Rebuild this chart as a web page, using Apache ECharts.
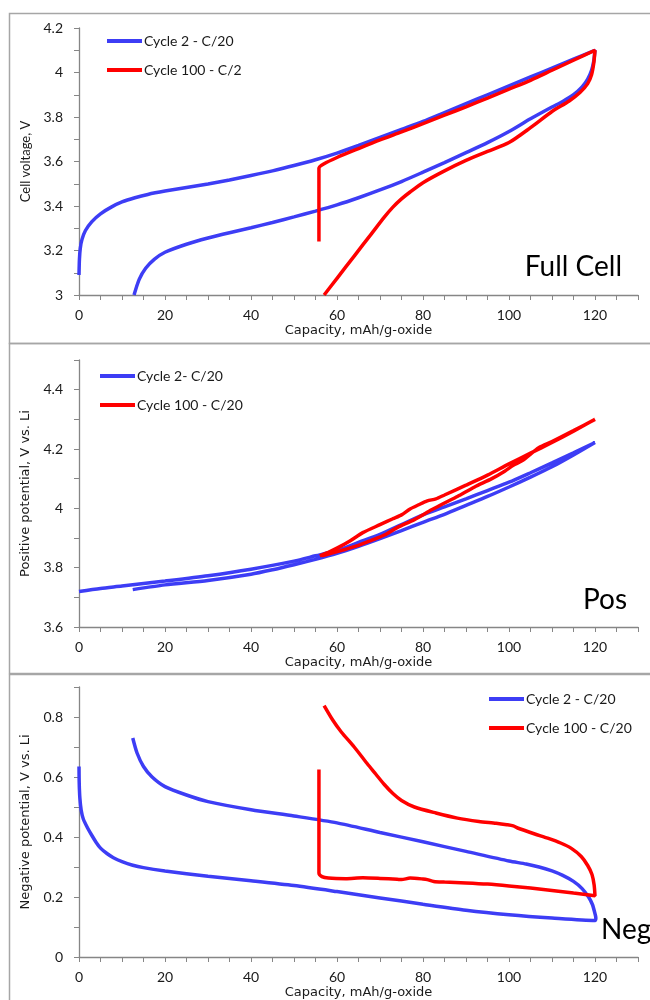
<!DOCTYPE html>
<html>
<head>
<meta charset="utf-8">
<script src="https://cdn.jsdelivr.net/npm/echarts@6/dist/echarts.min.js"></script>
<style>
html,body{margin:0;padding:0;background:#fff;}
#chart{width:650px;height:1000px;}
</style>
</head>
<body>
<div id="chart"></div>
<script>
// ---------- DATA ----------
const xTickMax = 130;
const panelLabels = ['Full Cell', 'Pos', 'Neg'];
const yTitles = ['Cell voltage, V', 'Positive potential, V vs. Li', 'Negative potential, V vs. Li'];
const xTitle = 'Capacity, mAh/g-oxide';
const legendFull = ['Cycle 2 - C/20', 'Cycle 100 - C/2'];
const legendPos = ['Cycle 2- C/20', 'Cycle 100 - C/20'];
const legendNeg = ['Cycle 2 - C/20', 'Cycle 100 - C/20'];

// Full cell, cycle 2 (charge then discharge)
const fullCycle2 = [
  [0,3.09],[0.1,3.16],[0.3,3.21],[0.7,3.25],[1.5,3.29],[3,3.33],[5,3.365],[7.5,3.395],[10,3.418],[13,3.437],
  [16,3.452],[20,3.467],[25,3.483],[30,3.499],[35,3.517],[40,3.537],[45,3.558],[50,3.582],[55,3.608],[60,3.638],
  [65,3.672],[70,3.708],[75,3.744],[80,3.78],[85,3.82],[90,3.86],[95,3.90],[100,3.94],[105,3.98],[110,4.02],
  [115,4.06],[120,4.10],
  [119.7,4.05],[119.2,4.01],[118.3,3.97],[117,3.935],[115,3.9],[112.5,3.87],[110,3.845],[105,3.792],[100,3.735],
  [95,3.685],[90,3.64],[85,3.595],[80,3.552],[75,3.51],[70,3.472],[65,3.437],[60,3.405],[55,3.377],[50,3.351],
  [45,3.326],[40,3.302],[35,3.28],[30,3.256],[25,3.228],[20,3.192],[17.5,3.16],[15.5,3.12],[14,3.07],[12.8,3.0]
];
// Full cell, cycle 100
const fullCycle100 = [
  [55.8,3.24],[55.8,3.40],[55.8,3.57],[57,3.59],[60,3.618],[65,3.658],[70,3.697],[75,3.733],[80,3.77],
  [85,3.808],[90,3.846],[95,3.885],[100,3.925],[105,3.965],[110,4.01],[115,4.055],[120,4.10],
  [119.7,4.04],[119.2,3.99],[118.3,3.95],[116.5,3.91],[114,3.872],[110,3.825],[105,3.752],[100,3.685],[95,3.645],
  [90,3.605],[85,3.558],[80,3.505],[77,3.463],[75,3.432],[73,3.395],[71,3.35],[68,3.275],[64,3.175],[60,3.075],[57,3.0]
];
// Positive electrode, cycle 2
const posCycle2 = [
  [0,3.72],[5,3.73],[10,3.738],[20,3.755],[30,3.773],[40,3.795],[50,3.822],[55,3.84],[60,3.858],[65,3.885],
  [70,3.912],[75,3.945],[80,3.978],[85,4.005],[90,4.032],[95,4.06],[100,4.088],[105,4.12],[110,4.153],
  [115,4.187],[120,4.222],
  [115,4.18],[110,4.14],[105,4.105],[100,4.072],[95,4.04],[90,4.01],[85,3.98],[80,3.953],[75,3.925],
  [70,3.898],[65,3.872],[60,3.848],[55,3.828],[50,3.81],[45,3.793],[40,3.778],[30,3.757],[20,3.742],[12.5,3.726]
];
// Positive electrode, cycle 100
const posCycle100 = [
  [56,3.84],[58,3.852],[60,3.866],[63,3.89],[66,3.918],[70,3.945],[73,3.965],[75,3.978],[77,3.998],[79,4.012],
  [81,4.025],[83,4.032],[85,4.045],[90,4.078],[95,4.112],[100,4.15],[105,4.186],[110,4.222],[115,4.26],[120,4.30],
  [115,4.262],[110,4.225],[107,4.205],[103,4.16],[101,4.145],[99,4.125],[96,4.1],[92,4.072],[88,4.04],
  [85,4.018],[82,3.995],[78,3.962],[74,3.935],[71,3.91],[68,3.892],[65,3.875],[62,3.862],[59,3.85],[56.5,3.84]
];
// Negative electrode, cycle 2
const negCycle2 = [
  [0,0.635],[0.05,0.58],[0.2,0.53],[0.5,0.49],[1,0.46],[2,0.43],[3,0.405],[4,0.382],[5,0.363],[6.5,0.345],
  [8,0.331],[10,0.318],[12.5,0.306],[15,0.298],[20,0.287],[30,0.269],[40,0.254],[50,0.238],[60,0.218],
  [70,0.197],[80,0.176],[90,0.156],[100,0.141],[110,0.13],[120,0.122],
  [120.2,0.13],[119.9,0.15],[119.4,0.175],[118.5,0.2],[117,0.228],[115,0.252],[112.5,0.272],[110,0.287],
  [107,0.3],[104,0.31],[100,0.32],[90,0.352],[80,0.384],[70,0.415],[60,0.447],[50,0.47],[40,0.491],[30,0.518],
  [25,0.54],[20,0.568],[17,0.6],[15,0.635],[13.5,0.68],[12.5,0.73]
];
// Negative electrode, cycle 100
const negCycle100 = [
  [55.8,0.625],[55.8,0.45],[55.8,0.28],[56.5,0.268],[58,0.263],[62,0.261],[66,0.264],[70,0.262],[74,0.259],
  [75,0.258],[77,0.263],[80,0.26],[81,0.258],[82.5,0.252],[85,0.25],[90,0.247],[95,0.243],[100,0.237],
  [105,0.23],[110,0.222],[115,0.213],[120,0.204],
  [119.8,0.24],[119.3,0.275],[118.3,0.305],[116.8,0.335],[114.5,0.362],[112,0.38],[109,0.396],[106,0.41],
  [102,0.43],[101,0.437],[99.5,0.441],[97,0.446],[93,0.452],[88,0.463],[83,0.48],[78,0.5],[75,0.522],[73,0.545],
  [71,0.575],[69,0.61],[67,0.645],[64,0.7],[61,0.75],[59,0.79],[57,0.838]
];

// ---------- STYLE ----------
const FONT = 'Lato, "Open Sans", sans-serif';
const WIDE = '"DejaVu Sans", sans-serif';
const BLUE = '#3d3df5';
const RED = '#ff0000';
const AXIS = '#868686';
const TXT = '#1a1a1a';

const grids = [
  {left:79, top:28, width:559, height:267},
  {left:79, top:360, width:559, height:267},
  {left:79, top:687, width:559, height:270}
];
const yRanges = [[3,4.2],[3.6,4.5],[0,0.9]];
const yTitleFonts = [FONT, WIDE, WIDE];

function xAx(gi){
  return {
    type:'value', gridIndex:gi, min:0, max:xTickMax, interval:5,
    name:xTitle, nameLocation:'middle', nameGap:29,
    nameTextStyle:{fontSize:13, color:TXT, fontFamily:WIDE},
    axisLine:{show:true, lineStyle:{color:AXIS, width:1.3}},
    axisTick:{show:true, length:5, lineStyle:{color:AXIS, width:1}},
    axisLabel:{fontSize:14, color:TXT, fontFamily:FONT, margin:13,
      formatter:v => (Math.round(v)%20===0 ? String(Math.round(v)) : '')},
    splitLine:{show:false}
  };
}
function yAx(gi){
  return {
    type:'value', gridIndex:gi, min:yRanges[gi][0], max:yRanges[gi][1], interval:0.1,
    name:yTitles[gi], nameLocation:'middle', nameGap:gi===0?45:44,
    nameTextStyle:{fontSize:13, color:TXT, fontFamily:yTitleFonts[gi]},
    axisLine:{show:true, lineStyle:{color:AXIS, width:1.3}},
    axisTick:{show:true, length:5, lineStyle:{color:AXIS, width:1}},
    axisLabel:{fontSize:14, color:TXT, fontFamily:FONT, margin:16,
      formatter:v => { const t = Math.round(v*10); return t%2===0 ? String(t/10) : ''; }},
    splitLine:{show:false}
  };
}
function ser(name, gi, data, color){
  return {
    type:'line', name:name, xAxisIndex:gi, yAxisIndex:gi, data:data,
    showSymbol:false, smooth:0.25, lineStyle:{color:color, width:3.5}, itemStyle:{color:color},
    z:color===RED?3:2
  };
}
function leg(names, left, top){
  return {
    data:names, left:left, top:top, orient:'vertical', padding:0, itemGap:15,
    icon:'rect', itemWidth:35, itemHeight:4,
    textStyle:{fontSize:14, color:TXT, fontFamily:FONT, padding:[0,0,0,-3]},
    selectedMode:false
  };
}

const option = {
  animation:false,
  backgroundColor:'#fff',
  grid:grids,
  xAxis:[xAx(0),xAx(1),xAx(2)],
  yAxis:[yAx(0),yAx(1),yAx(2)],
  legend:[leg(legendFull,107,34), leg(legendPos,100,369), leg(legendNeg,489,692)],
  series:[
    ser(legendFull[0],0,fullCycle2,BLUE),
    ser(legendFull[1],0,fullCycle100,RED),
    ser(legendPos[0],1,posCycle2,BLUE),
    ser(legendPos[1],1,posCycle100,RED),
    ser(legendNeg[0],2,negCycle2,BLUE),
    ser(legendNeg[1],2,negCycle100,RED)
  ],
  graphic:[
    {type:'rect', shape:{x:9.5,y:13.5,width:660,height:330}, style:{fill:'none',stroke:'#a6a6a6',lineWidth:1.5}, silent:true},
    {type:'rect', shape:{x:9.5,y:343.5,width:660,height:330}, style:{fill:'none',stroke:'#a6a6a6',lineWidth:1.5}, silent:true},
    {type:'rect', shape:{x:9.5,y:674.5,width:660,height:400}, style:{fill:'none',stroke:'#a6a6a6',lineWidth:1.5}, silent:true},
    {type:'text', style:{x:622, y:267, text:panelLabels[0], font:'28px '+FONT, fill:'#000', align:'right', verticalAlign:'middle'}},
    {type:'text', style:{x:627, y:600, text:panelLabels[1], font:'28px '+FONT, fill:'#000', align:'right', verticalAlign:'middle'}},
    {type:'text', style:{x:601, y:930, text:panelLabels[2], font:'28px '+FONT, fill:'#000', align:'left', verticalAlign:'middle'}}
  ]
};
const chart = echarts.init(document.getElementById('chart'), null, {renderer:'canvas'});
chart.setOption(option);
</script>
</body>
</html>
